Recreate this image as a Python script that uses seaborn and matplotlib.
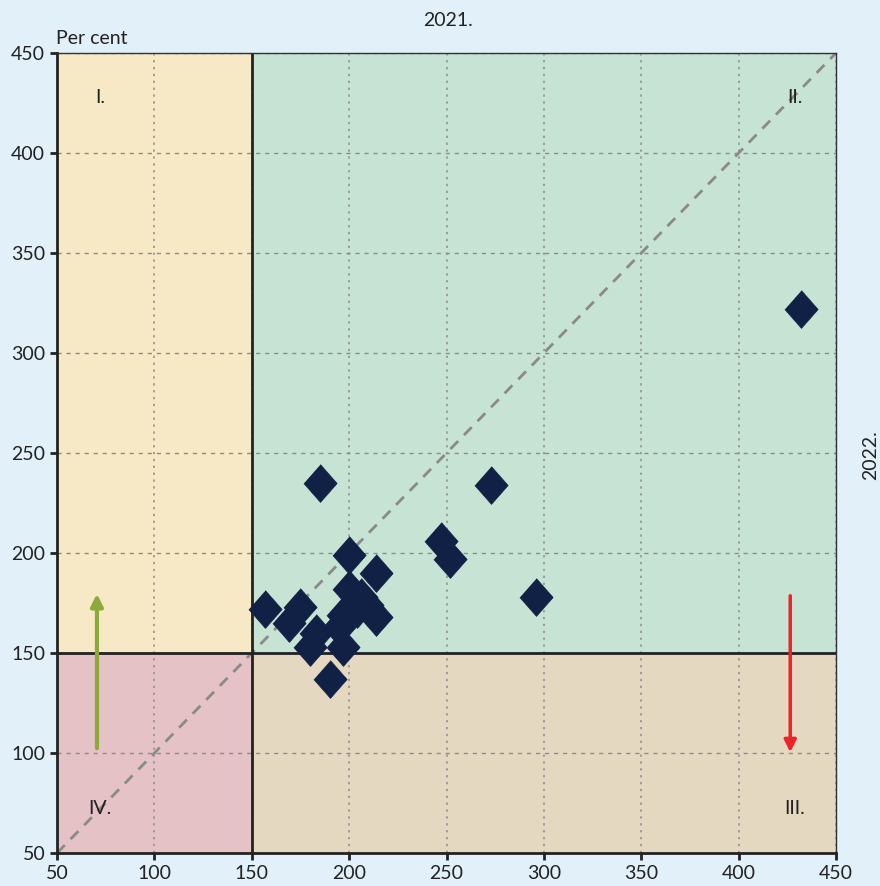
import seaborn as sns
import pandas as pd
import matplotlib.pyplot as plt
from matplotlib.patches import Rectangle

# values (x: 2021, y: 2022, per cent)
x_2021 = [157, 175, 169, 185, 183, 180, 197, 190, 200, 214, 200, 206, 197, 214,
          204, 209, 195, 247, 252, 273, 296, 432]
y_2022 = [172, 173, 165, 235, 160, 153, 153, 137, 199, 190, 182, 178, 169, 168,
          172, 174, 163, 206, 197, 234, 178, 322]
ticks = [50, 100, 150, 200, 250, 300, 350, 400, 450]
threshold = 150
quadrant_labels = ["I.", "II.", "III.", "IV."]

df = pd.DataFrame({"x": x_2021, "y": y_2022})

sns.set_style("white")
plt.rcParams['font.family'] = ['Lato', 'DejaVu Sans']

bg = "#E1F0F9"
txt = "#222222"
fs = 14
fig = plt.figure(figsize=(8.8, 8.86), dpi=100, facecolor=bg)
ax = fig.add_axes([0.0648, 0.0372, 0.8852, 0.903])

lo, hi = ticks[0], ticks[-1]
# quadrant backgrounds
ax.add_patch(Rectangle((lo, threshold), threshold - lo, hi - threshold, fc="#F8E9C6", ec="none", zorder=0.2))
ax.add_patch(Rectangle((threshold, threshold), hi - threshold, hi - threshold, fc="#C6E3D3", ec="none", zorder=0.2))
ax.add_patch(Rectangle((threshold, lo), hi - threshold, threshold - lo, fc="#E4D8C1", ec="none", zorder=0.2))
ax.add_patch(Rectangle((lo, lo), threshold - lo, threshold - lo, fc="#E4C2C6", ec="none", zorder=0.2))

ax.set_xlim(lo, hi)
ax.set_ylim(lo, hi)
ax.set_xticks(ticks)
ax.set_yticks(ticks)

ax.set_axisbelow(True)
ax.xaxis.grid(True, color="#8c8c8c", linestyle=(0, (1.5, 3)), linewidth=1.1)
ax.yaxis.grid(True, color="#8c8c8c", linestyle=(0, (3, 3.5)), linewidth=1.0)

# diagonal and thresholds
ax.plot([lo, hi], [lo, hi], color="#8a8a8a", linestyle=(0, (4, 3)), linewidth=2, zorder=1.5)
ax.axvline(threshold, color=txt, linewidth=2, zorder=1.6)
ax.axhline(threshold, color=txt, linewidth=2, zorder=1.6)

diamond = [(0, 1), (0.88, 0), (0, -1), (-0.88, 0)]
sns.scatterplot(data=df, x="x", y="y", marker=diamond, s=740, color="#112045",
                edgecolor="#112045", linewidth=0.5, ax=ax, zorder=3, legend=False)

# arrows
ax.annotate("", xy=(70.5, 181), xytext=(70.5, 101),
            arrowprops=dict(arrowstyle="-|>", color="#8BAA3A", lw=3, mutation_scale=18), zorder=4)
ax.annotate("", xy=(426.5, 99), xytext=(426.5, 180),
            arrowprops=dict(arrowstyle="-|>", color="#EE2328", lw=2.5, mutation_scale=18), zorder=4)

# quadrant labels
ax.text(72, 427.5, quadrant_labels[0], ha="center", va="center", fontsize=fs, color=txt)
ax.text(429, 427.5, quadrant_labels[1], ha="center", va="center", fontsize=fs, color=txt)
ax.text(429, 72.5, quadrant_labels[2], ha="center", va="center", fontsize=fs, color=txt)
ax.text(72, 72.5, quadrant_labels[3], ha="center", va="center", fontsize=fs, color=txt)

for side in ["left", "bottom"]:
    ax.spines[side].set_linewidth(2)
    ax.spines[side].set_color(txt)
for side in ["top", "right"]:
    ax.spines[side].set_linewidth(1)
    ax.spines[side].set_color("#333333")
ax.tick_params(axis="both", which="major", direction="out", length=5, width=2,
               color=txt, labelsize=fs, labelcolor=txt, left=True, bottom=True)
ax.set_xlabel("")
ax.set_ylabel("")

fig.text(0.509, 0.977, "2021.", ha="center", va="center", fontsize=fs, color=txt)
fig.text(0.989, 0.486, "2022.", ha="center", va="center", rotation=90, fontsize=fs, color=txt)
fig.text(0.064, 0.957, "Per cent", ha="left", va="center", fontsize=fs, color=txt)

fig.savefig("out.png", dpi=100, facecolor=bg)
